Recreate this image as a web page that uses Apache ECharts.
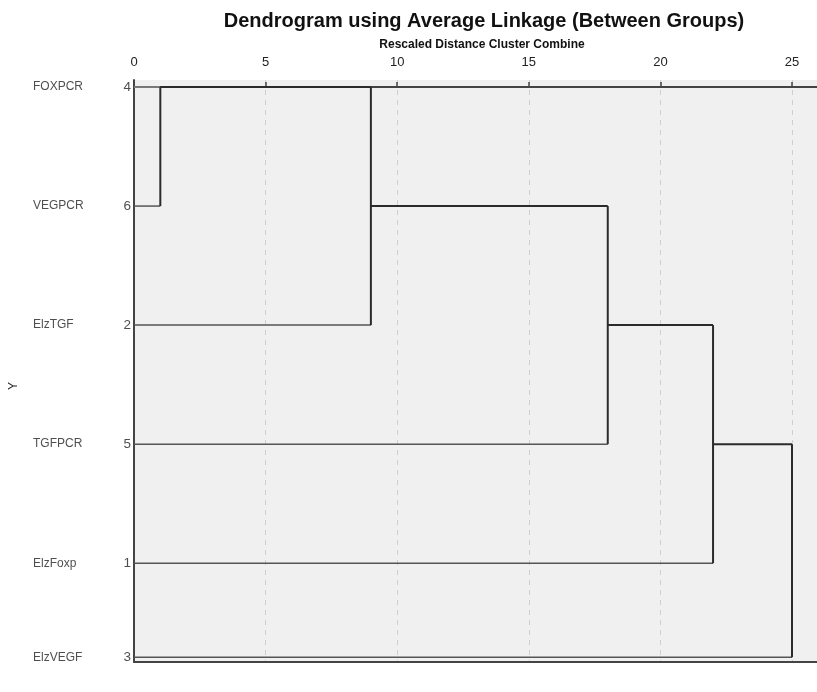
<!DOCTYPE html>
<html>
<head>
<meta charset="utf-8">
<script src="https://cdn.jsdelivr.net/npm/echarts@6/dist/echarts.min.js"></script>
<style>html,body{margin:0;padding:0;background:#fff;}#c{width:817px;height:692px;}</style>
</head>
<body>
<div id="c"></div>
<script>
// Leaves in dendrogram order (top to bottom)
var leafNames = ['FOXPCR', 'VEGPCR', 'ElzTGF', 'TGFPCR', 'ElzFoxp', 'ElzVEGF'];
var caseNums = ['4', '6', '2', '5', '1', '3'];
// vertical position of each leaf row (row units)
var rowPos = [0, 1, 2, 3, 4, 4.79];
// distance at which each leaf first joins a cluster
var leafJoin = [1, 1, 9, 18, 22, 25];
// merges: rescaled distance, top row, bottom row, row where resulting cluster continues
var mergeDist = [1, 9, 18, 22, 25];
var mergeTop = [0, 0, 1, 2, 3];
var mergeBottom = [1, 2, 3, 4, 5];
var mergeOutRow = [0, 1, 2, 3, null];
var xTicks = [0, 5, 10, 15, 20, 25];

var FONT = "'Liberation Sans', Arial, sans-serif";
var LINE = '#2b2b2b';

var series = [];
function seg(p1, p2, color, w) {
  series.push({
    type: 'line', data: [p1, p2], showSymbol: false, symbol: 'none', silent: true,
    lineStyle: { color: color, width: w }, clip: false, animation: false, z: 5
  });
}
// leaf lines
for (var i = 0; i < leafNames.length; i++) {
  seg([0, rowPos[i]], [leafJoin[i], rowPos[i]], i === 0 ? '#8a8a8a' : '#555', 1.5);
}
// merge verticals and outgoing horizontals
for (var m = 0; m < mergeDist.length; m++) {
  seg([mergeDist[m], rowPos[mergeTop[m]]], [mergeDist[m], rowPos[mergeBottom[m]]], LINE, 2);
  if (mergeOutRow[m] !== null) {
    seg([mergeDist[m], rowPos[mergeOutRow[m]]], [mergeDist[m + 1], rowPos[mergeOutRow[m]]], LINE, 2);
  }
}
// row labels (case numbers and names)
series.push({
  type: 'scatter', symbolSize: 0, silent: true, animation: false,
  data: rowPos.map(function (y, i) { return { value: [0, y], name: caseNums[i] }; }),
  label: { show: true, position: 'left', distance: 3, formatter: '{b}', color: '#222', fontSize: 13.5, fontFamily: FONT }
});
series.push({
  type: 'scatter', symbolSize: 0, silent: true, animation: false,
  data: rowPos.map(function (y, i) { return { value: [0, y], name: leafNames[i] }; }),
  label: { show: true, position: 'left', distance: 101, align: 'left', formatter: '{b}', color: '#222', fontSize: 12, fontFamily: FONT }
});

var chart = echarts.init(document.getElementById('c'), null, { renderer: 'canvas' });
chart.setOption({
  backgroundColor: '#ffffff',
  animation: false,
  title: [
    { text: 'Dendrogram using Average Linkage (Between Groups)', left: 479, top: 6, textAlign: 'center',
      textStyle: { fontSize: 20, fontWeight: 'bold', color: '#111', fontFamily: FONT } },
    { text: 'Rescaled Distance Cluster Combine', left: 477, top: 34, textAlign: 'center',
      textStyle: { fontSize: 12, fontWeight: 'bold', color: '#111', fontFamily: FONT } }
  ],
  grid: { left: 132, right: 0, top: 80, bottom: 30, show: true, backgroundColor: '#f0f0f0', borderWidth: 0 },
  xAxis: [
    { type: 'value', position: 'top', min: 0, max: 25.95, interval: 5,
      axisLine: { show: true, lineStyle: { color: '#444', width: 2 } },
      axisTick: { show: true, length: 5, lineStyle: { color: '#444', width: 1.5 } },
      axisLabel: { showMaxLabel: false, color: '#222', fontSize: 13, fontFamily: FONT, margin: 11,
        formatter: function (v) { return xTicks.indexOf(v) >= 0 ? String(v) : ''; } },
      splitLine: { show: true, lineStyle: { color: '#cfcfcf', type: [5, 5], width: 1 } }
    },
    { type: 'value', position: 'bottom', min: 0, max: 25.95, interval: 5,
      axisLine: { show: true, lineStyle: { color: '#444', width: 2 } },
      axisTick: { show: false }, axisLabel: { show: false }, splitLine: { show: false }
    }
  ],
  yAxis: {
    type: 'value', inverse: true, min: -0.059, max: 4.83,
    name: 'Y', nameLocation: 'middle', nameGap: 114, nameRotate: 90,
    nameTextStyle: { color: '#222', fontSize: 12, fontFamily: FONT, padding: [0, 30, 0, 0] },
    axisLine: { show: true, lineStyle: { color: '#444', width: 2 } },
    axisTick: { show: false }, axisLabel: { show: false }, splitLine: { show: false }
  },
  series: series
});
</script>
</body>
</html>
